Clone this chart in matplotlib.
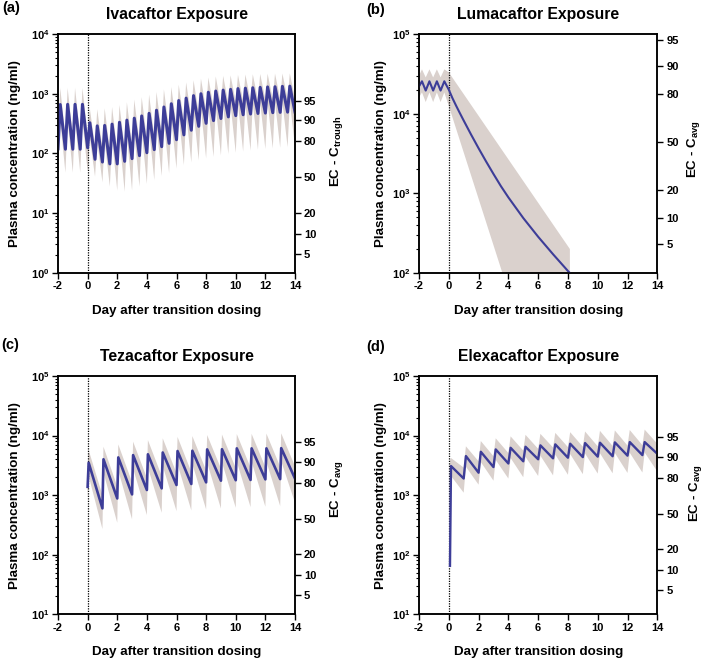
import numpy as np
import matplotlib
matplotlib.use("Agg")
import matplotlib.pyplot as plt
from matplotlib.ticker import LogLocator, NullLocator, FuncFormatter, NullFormatter

plt.rcParams.update({
    "font.family": "Liberation Sans",
    "font.weight": "bold",
    "axes.labelweight": "bold",
    "mathtext.fontset": "custom",
    "mathtext.rm": "Liberation Sans:bold",
    "mathtext.it": "Liberation Sans:bold",
    "mathtext.bf": "Liberation Sans:bold",
    "mathtext.default": "rm",
    "axes.unicode_minus": False,
})

# ---------------- data ----------------
panel_titles = ["Ivacaftor Exposure", "Lumacaftor Exposure", "Tezacaftor Exposure", "Elexacaftor Exposure"]
panel_letters = ["(a)", "(b)", "(c)", "(d)"]
right_labels = [r"EC - C$_{\mathrm{trough}}$", r"EC - C$_{\mathrm{avg}}$", r"EC - C$_{\mathrm{avg}}$", r"EC - C$_{\mathrm{avg}}$"]
ec_levels = [95, 90, 80, 50, 20, 10, 5]
ec50_values = [40, 4400, 405, 490]          # ng/ml, concentration giving 50% effect
x_ticks = [-2, 0, 2, 4, 6, 8, 10, 12, 14]

# (a) Ivacaftor
a_trough_days = [-2.0, -1.5, -1.0, -0.5, 0.0, 0.5, 1.0, 1.5, 2.0, 2.5, 3.0, 3.5, 4.0, 4.5, 5.0, 5.5,
                 6.0, 6.5, 7.0, 7.5, 8.0, 8.5, 9.0, 9.5, 10.0, 10.5, 11.0, 11.5, 12.0, 12.5, 13.0, 13.5, 14.0]
a_trough_conc = [120, 118, 118, 118, 125, 80, 72, 67, 67, 74, 82, 92, 103, 116, 130, 148, 170, 205, 245,
                 285, 320, 355, 385, 410, 430, 445, 458, 468, 475, 482, 488, 492, 495]
a_peak_days = [-1.85, -1.35, -0.85, -0.35, 0.15, 0.65, 1.15, 1.65, 2.15, 2.65, 3.15, 3.65, 4.15, 4.65,
               5.15, 5.65, 6.15, 6.65, 7.15, 7.65, 8.15, 8.65, 9.15, 9.65, 10.15, 10.65, 11.15, 11.65,
               12.15, 12.65, 13.15, 13.65]
a_peak_conc = [660, 665, 665, 665, 327, 290, 295, 310, 333, 362, 390, 425, 470, 530, 600, 680, 770, 845,
               930, 1000, 1060, 1110, 1150, 1185, 1220, 1240, 1260, 1280, 1300, 1310, 1330, 1340]
a_hi_peak = [1250, 1250, 1250, 1250, 560, 550, 570, 600, 650, 720, 800, 880, 970, 1070, 1180, 1300, 1420,
             1550, 1680, 1790, 1870, 1940, 1990, 2030, 2070, 2100, 2120, 2140, 2160, 2170, 2180, 2190]
a_hi_trough = [200, 200, 200, 200, 210, 135, 122, 114, 114, 125, 140, 157, 175, 197, 222, 252, 290, 350,
               415, 485, 545, 600, 655, 700, 730, 755, 780, 795, 810, 820, 830, 835, 840]
a_lo_trough = [50, 48, 48, 48, 50, 41, 33, 28, 24, 23, 24, 28, 31, 36, 42, 47, 56, 64, 71, 77, 83, 88, 93,
               98, 103, 108, 112, 116, 119, 122, 125, 128, 130]
a_lo_peak = [360, 365, 365, 365, 180, 160, 162, 170, 183, 200, 215, 235, 260, 292, 330, 375, 425, 465,
             510, 550, 585, 610, 632, 650, 670, 682, 693, 704, 715, 720, 730, 737]

# (b) Lumacaftor
b_days = [-2.0, -1.8, -1.55, -1.3, -1.05, -0.8, -0.55, -0.3, 0.0, 0.25, 0.5, 0.75, 1.0, 1.5, 2.0, 2.5,
          3.0, 3.5, 4.0, 5.0, 6.0, 7.0, 8.0, 8.13]
b_conc = [22000, 25500, 19500, 25500, 19500, 25500, 19500, 25500, 20000, 15600, 12500, 10100, 8200, 5450,
          3680, 2520, 1750, 1230, 890, 490, 285, 172, 106, 100]
b_hi_days = [-2.0, -1.8, -1.55, -1.3, -1.05, -0.8, -0.55, -0.3, 0.0, 8.13]
b_hi = [30000, 36000, 28500, 36000, 28500, 36000, 28500, 36000, 33000, 200]
b_lo_days = [-2.0, -1.8, -1.55, -1.3, -1.05, -0.8, -0.55, -0.3, 0.0, 3.6, 8.13]
b_lo = [16000, 18500, 14000, 18500, 14000, 18500, 14000, 18500, 12500, 100, 0.3]

# (c) Tezacaftor
c_trough_days = [0, 1, 2, 3, 4, 5, 6, 7, 8, 9, 10, 11, 12, 13, 14]
c_trough_conc = [1380, 600, 880, 1030, 1220, 1300, 1480, 1540, 1640, 1750, 1780, 1800, 1840, 1860, 1900]
c_peak_days = [0.07, 1.07, 2.07, 3.07, 4.07, 5.07, 6.07, 7.07, 8.07, 9.07, 10.07, 11.07, 12.07, 13.07]
c_peak_conc = [3500, 4000, 4300, 4700, 4850, 5200, 5500, 5560, 5860, 5900, 6100, 6100, 6100, 6150]
c_hi_peak = [5700, 6500, 7100, 7900, 8400, 9000, 9500, 9800, 10200, 10400, 10600, 10700, 10800, 10900]
c_hi_trough = [2000, 1000, 1400, 1650, 1950, 2100, 2350, 2450, 2600, 2800, 2850, 2900, 2950, 3000, 3050]
c_lo_trough = [900, 270, 344, 393, 463, 507, 540, 555, 576, 595, 615, 630, 640, 656, 747]
c_lo_peak = [2100, 2400, 2600, 2800, 2900, 3100, 3300, 3350, 3500, 3550, 3650, 3650, 3650, 3700]

# (d) Elexacaftor
d_trough_days = [0.08, 1, 2, 3, 4, 5, 6, 7, 8, 9, 10, 11, 12, 13, 14]
d_trough_conc = [65, 1900, 2380, 2960, 3400, 3700, 4000, 4150, 4250, 4350, 4430, 4500, 4600, 4700, 4950]
d_peak_days = [0.15, 1.15, 2.15, 3.15, 4.15, 5.15, 6.15, 7.15, 8.15, 9.15, 10.15, 11.15, 12.15, 13.15]
d_peak_conc = [3080, 4530, 5350, 5860, 6240, 6490, 6850, 7120, 7300, 7490, 7590, 7690, 7780, 7780]
d_hi_trough = [3800, 2900, 3700, 4500, 5100, 5600, 6000, 6300, 6400, 6500, 6600, 6700, 6800, 6900, 7300]
d_hi_peak = [4200, 6600, 8100, 9000, 9700, 10300, 10700, 11100, 11400, 11700, 12000, 12200, 12400, 12600]
d_lo_trough = [2200, 1100, 1500, 1750, 1900, 2000, 2100, 2150, 2200, 2250, 2300, 2330, 2360, 2400, 2500]
d_lo_peak = [2100, 3000, 3600, 3900, 4200, 4400, 4600, 4800, 4900, 5000, 5050, 5100, 5150, 5200]

ylims = [(1, 1e4), (1e2, 1e5), (1e1, 1e5), (1e1, 1e5)]

# ---------------- style ----------------
LINE = "#3d3d98"
BAND = "#dad1cd"
FS_TICK = 8
FS_LAB = 9.6
FS_TITLE = 11.3


def merge(t1, v1, t2, v2):
    t = np.concatenate([np.asarray(t1, float), np.asarray(t2, float)])
    v = np.concatenate([np.asarray(v1, float), np.asarray(v2, float)])
    o = np.argsort(t, kind="stable")
    return t[o], v[o]


fig = plt.figure(figsize=(7.08, 6.62), dpi=100)
W, H = 708.0, 662.0
rects = [
    [58 / W, 1 - 273 / H, 237 / W, 239 / H],
    [419 / W, 1 - 273 / H, 238.3 / W, 239 / H],
    [58 / W, 1 - 614.3 / H, 237 / W, 238.3 / H],
    [419 / W, 1 - 614.3 / H, 238.3 / W, 238.3 / H],
]
ylab_x = [-0.18, -0.161, -0.18, -0.161]
rlab_x = [1.177, 1.154, 1.177, 1.161]
rlab_y = [0.511, 0.52, 0.526, 0.51]
letter_pos = [(2, 8), (366, 10), (1, 345), (366, 347)]
line_w = [2.2, 1.5, 1.9, 1.7]

curves = []
bands = []
t, v = merge(a_trough_days, a_trough_conc, a_peak_days, a_peak_conc)
curves.append((t, v))
tu, vu = merge(a_trough_days, a_hi_trough, a_peak_days, a_hi_peak)
tl, vl = merge(a_trough_days, a_lo_trough, a_peak_days, a_lo_peak)
bands.append((tu, vu, tl, vl))

curves.append((np.array(b_days), np.array(b_conc, float)))
bands.append((np.array(b_hi_days), np.array(b_hi, float), np.array(b_lo_days), np.array(b_lo, float)))

t, v = merge(c_trough_days, c_trough_conc, c_peak_days, c_peak_conc)
curves.append((t, v))
tu, vu = merge(c_trough_days, c_hi_trough, c_peak_days, c_hi_peak)
tl, vl = merge(c_trough_days, c_lo_trough, c_peak_days, c_lo_peak)
bands.append((tu, vu, tl, vl))

t, v = merge(d_trough_days, d_trough_conc, d_peak_days, d_peak_conc)
curves.append((t, v))
tu, vu = merge(d_trough_days, d_hi_trough, d_peak_days, d_hi_peak)
tl, vl = merge(d_trough_days, d_lo_trough, d_peak_days, d_lo_peak)
bands.append((tu, vu, tl, vl))


def pow_fmt(val, pos):
    e = int(round(np.log10(val)))
    return r"$10^{%d}$" % e


for i in range(4):
    ax = fig.add_axes(rects[i])
    tu, vu, tl, vl = bands[i]
    ax.fill(np.concatenate([tu, tl[::-1]]), np.concatenate([vu, vl[::-1]]),
            color=BAND, lw=0, zorder=1)
    ax.axvline(0, color="black", ls=(0, (1, 1)), lw=0.9, zorder=2)
    t, v = curves[i]
    ax.plot(t, v, color=LINE, lw=line_w[i], zorder=3, solid_joinstyle="round")

    ax.set_yscale("log")
    ax.set_ylim(*ylims[i])
    ax.set_xlim(-2, 14)
    ax.set_xticks(x_ticks)
    ax.set_xticklabels([str(x) for x in x_ticks])
    ax.yaxis.set_major_locator(LogLocator(base=10, numticks=10))
    ax.yaxis.set_minor_locator(LogLocator(base=10, subs=np.arange(2, 10), numticks=20))
    ax.yaxis.set_major_formatter(FuncFormatter(pow_fmt))
    ax.yaxis.set_minor_formatter(NullFormatter())
    ax.tick_params(axis="both", which="major", direction="out", length=4, width=1.0,
                   labelsize=FS_TICK, pad=2)
    ax.tick_params(axis="y", which="minor", direction="out", length=2.2, width=0.8)
    ax.tick_params(top=False, right=False)
    for s in ax.spines.values():
        s.set_linewidth(1.1)

    ax2 = ax.twinx()
    ax2.set_yscale("log")
    ax2.set_ylim(*ylims[i])
    pos = [ec50_values[i] * p / (100 - p) for p in ec_levels]
    ax2.set_yticks(pos)
    ax2.set_yticklabels([str(p) for p in ec_levels])
    ax2.yaxis.set_minor_locator(NullLocator())
    ax2.tick_params(axis="y", which="major", direction="out", length=4, width=1.0,
                    labelsize=FS_TICK, pad=2.5)
    for s in ax2.spines.values():
        s.set_linewidth(1.1)

    ax.text(0.5, 1.08, panel_titles[i], transform=ax.transAxes, ha="center", va="center",
            fontsize=FS_TITLE, fontweight="bold")
    ax.text(0.5, -0.158, "Day after transition dosing", transform=ax.transAxes, ha="center",
            va="center", fontsize=FS_LAB, fontweight="bold")
    ax.text(ylab_x[i], 0.5, "Plasma concentration (ng/ml)", transform=ax.transAxes, rotation=90,
            ha="center", va="center", fontsize=FS_LAB, fontweight="bold")
    ax.text(rlab_x[i], rlab_y[i], right_labels[i], transform=ax.transAxes, rotation=90,
            ha="center", va="center", fontsize=FS_LAB, fontweight="bold")
    lx, ly = letter_pos[i]
    fig.text(lx / W, 1 - ly / H, panel_letters[i], ha="left", va="center", fontsize=10.5,
             fontweight="bold")

fig.savefig("out.png", dpi=100)
